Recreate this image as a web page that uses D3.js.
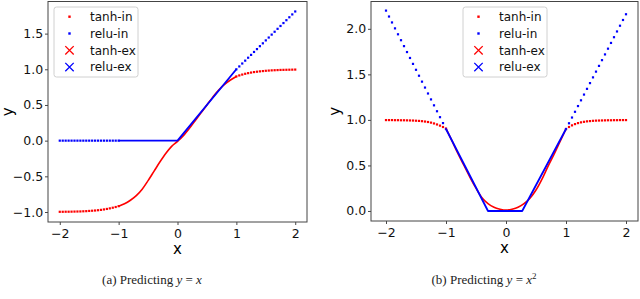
<!DOCTYPE html>
<html><head><meta charset="utf-8">
<script src="https://cdn.jsdelivr.net/npm/d3@7"></script>
<style>body{margin:0;background:#fff}svg{display:block}</style>
</head><body>
<svg id="c" width="640" height="299"></svg>
<script>
// grids
const xOutL = [-2,-1.95,-1.9,-1.85,-1.8,-1.75,-1.7,-1.65,-1.6,-1.55,-1.5,-1.45,-1.4,-1.35,-1.3,-1.25,-1.2,-1.15,-1.1,-1.05,-1];
const xOutR = [1,1.05,1.1,1.15,1.2,1.25,1.3,1.35,1.4,1.45,1.5,1.55,1.6,1.65,1.7,1.75,1.8,1.85,1.9,1.95,2];
const xIn = [-1,-0.9,-0.8,-0.7,-0.6,-0.5,-0.4,-0.3,-0.2,-0.1,0,0.1,0.2,0.3,0.4,0.5,0.6,0.7,0.8,0.9,1];

// panel (a): y = x
const tanhInA_L = [-0.997,-0.997,-0.996,-0.996,-0.995,-0.994,-0.993,-0.992,-0.990,-0.988,-0.985,-0.982,-0.979,-0.975,-0.970,-0.964,-0.957,-0.949,-0.940,-0.930,-0.918];
const tanhInA_R = [0.900,0.914,0.926,0.937,0.946,0.954,0.961,0.966,0.971,0.975,0.979,0.982,0.985,0.987,0.989,0.991,0.992,0.993,0.994,0.995,0.996];
const reluInA_L = [0,0,0,0,0,0,0,0,0,0,0,0,0,0,0,0,0,0,0,0,0];
const reluInA_R = [1.000,1.040,1.081,1.121,1.162,1.202,1.243,1.283,1.324,1.364,1.405,1.445,1.486,1.526,1.567,1.607,1.648,1.688,1.729,1.769,1.810];
const tanhExA = [-0.918,-0.885,-0.835,-0.77,-0.68,-0.56,-0.43,-0.3,-0.18,-0.08,-0.01,0.07,0.17,0.28,0.39,0.5,0.61,0.71,0.79,0.85,0.9];
const reluExA_x = [-1,0,1];
const reluExA_y = [0,0,1];

// panel (b): y = x^2
const tanhInB_L = [0.998,0.998,0.998,0.997,0.997,0.996,0.996,0.995,0.994,0.993,0.991,0.989,0.986,0.982,0.977,0.970,0.961,0.950,0.937,0.922,0.905];
const tanhInB_R = [0.900,0.922,0.940,0.954,0.965,0.973,0.979,0.984,0.987,0.990,0.992,0.993,0.994,0.995,0.996,0.996,0.997,0.997,0.998,0.998,0.998];
const reluInB_L = [2.200,2.135,2.070,2.005,1.940,1.875,1.810,1.745,1.680,1.615,1.550,1.485,1.420,1.355,1.290,1.225,1.160,1.095,1.030,0.965,0.900];
const reluInB_R = [0.900,0.963,1.026,1.089,1.152,1.215,1.278,1.341,1.404,1.467,1.530,1.593,1.656,1.719,1.782,1.845,1.908,1.971,2.034,2.097,2.160];
const tanhExB = [0.905,0.77,0.63,0.50,0.37,0.25,0.145,0.08,0.04,0.02,0.01,0.02,0.04,0.08,0.14,0.23,0.35,0.49,0.62,0.76,0.90];
const reluExB_x = [-1,-0.3,0.27,1];
const reluExB_y = [0.9,0,0,0.9];

const xTicks = [-2,-1,0,1,2];
const yTicksA = [-1,-0.5,0,0.5,1,1.5];
const yTicksB = [0,0.5,1,1.5,2];
const legendLabels = ["tanh-in","relu-in","tanh-ex","relu-ex"];
const legendColors = ["#ff0000","#0000ff","#ff0000","#0000ff"];
const legendKinds = ["dot","dot","x","x"];

const RED = "#ff0000", BLUE = "#0000ff";
const svg = d3.select("#c");
const zip = (xs, ys) => xs.map((x,i)=>[x, ys[i]]);

function panel(cfg){
  const g = svg.append("g");
  const x = d3.scaleLinear().domain(cfg.xd).range([cfg.l, cfg.r]);
  const y = d3.scaleLinear().domain(cfg.yd).range([cfg.b, cfg.t]);
  const fmtX = d3.format("d"), fmtY = d3.format(".1f");

  const ax = g.append("g").attr("transform",`translate(0,${cfg.b})`)
    .call(d3.axisBottom(x).tickValues(xTicks).tickFormat(fmtX).tickSizeOuter(0).tickSize(3).tickPadding(4));
  const ay = g.append("g").attr("transform",`translate(${cfg.l},0)`)
    .call(d3.axisLeft(y).tickValues(cfg.yt).tickFormat(fmtY).tickSizeOuter(0).tickSize(3).tickPadding(1.8));
  [ax, ay].forEach(a=>{
    a.select(".domain").remove();
    a.selectAll("line").attr("stroke","#333").attr("stroke-width",0.9);
    a.selectAll("text").attr("font-family","DejaVu Sans").attr("font-size",12.5).attr("fill","#111");
  });

  // series
  const dots = (xs, ys, col) => g.append("g").selectAll("rect").data(zip(xs, ys)).join("rect")
    .attr("x", d=>x(d[0])-1.1).attr("y", d=>y(d[1])-1.1).attr("width",2.2).attr("height",2.2).attr("fill", col);
  const line = (pts, col, w, curve) => g.append("path").datum(pts)
    .attr("d", d3.line().x(d=>x(d[0])).y(d=>y(d[1])).curve(curve||d3.curveLinear))
    .attr("fill","none").attr("stroke", col).attr("stroke-width", w).attr("stroke-linejoin","round");

  dots(xOutL, cfg.tL, RED); dots(xOutR, cfg.tR, RED);
  dots(xOutL, cfg.rL, BLUE); dots(xOutR, cfg.rR, BLUE);
  line(zip(xIn, cfg.tEx), RED, 1.6, d3.curveMonotoneX);
  line(zip(cfg.rExX, cfg.rExY), BLUE, 1.8);

  // frame
  g.append("rect").attr("x",cfg.l).attr("y",cfg.t).attr("width",cfg.r-cfg.l).attr("height",cfg.b-cfg.t)
    .attr("fill","none").attr("stroke","#444").attr("stroke-width",1);

  // axis labels
  g.append("text").attr("x",(cfg.l+cfg.r)/2).attr("y",cfg.b+32).attr("text-anchor","middle")
    .attr("font-family","DejaVu Sans").attr("font-size",15).text("x");
  g.append("text").attr("transform",`translate(${cfg.ylx},${(cfg.t+cfg.b)/2}) rotate(-90)`).attr("text-anchor","middle")
    .attr("font-family","DejaVu Sans").attr("font-size",15).text("y");

  // legend
  const lg = g.append("g");
  lg.append("rect").attr("x",cfg.lx).attr("y",cfg.ly).attr("width",cfg.lw).attr("height",70).attr("rx",2.5)
    .attr("fill","rgba(255,255,255,0.85)").attr("stroke","#d0d0d0").attr("stroke-width",1);
  legendLabels.forEach((lab,i)=>{
    const cy = cfg.ly + 9.7 + i*16.8, mx = cfg.lx + 15.5;
    if(legendKinds[i]==="dot"){
      lg.append("rect").attr("x",mx-1.2).attr("y",cy-1.2).attr("width",2.4).attr("height",2.4).attr("fill",legendColors[i]);
    } else {
      lg.append("path").attr("d",`M${mx-4.2},${cy-4.2}L${mx+4.2},${cy+4.2}M${mx-4.2},${cy+4.2}L${mx+4.2},${cy-4.2}`)
        .attr("stroke",legendColors[i]).attr("stroke-width",1.3);
    }
    lg.append("text").attr("x",cfg.lx+36).attr("y",cy+4.3).attr("font-family","DejaVu Sans").attr("font-size",12)
      .attr("fill","#111").text(lab);
  });

  // caption
  const cap = svg.append("text").attr("x",cfg.capx).attr("y",284).attr("text-anchor","middle")
    .attr("font-family","Liberation Serif").attr("font-size",13).attr("fill","#222");
  cap.append("tspan").text(cfg.capLab + " Predicting ");
  cap.append("tspan").attr("font-style","italic").text("y");
  cap.append("tspan").text(" = ");
  cap.append("tspan").attr("font-style","italic").text("x");
  if(cfg.sq) cap.append("tspan").attr("font-size",9).attr("dy",-5).text("2");
}

panel({l:48, r:307, t:1.5, b:222, xd:[-2.2,2.2], yd:[-1.14,1.95], yt:yTicksA,
  tL:tanhInA_L, tR:tanhInA_R, rL:reluInA_L, rR:reluInA_R, tEx:tanhExA, rExX:reluExA_x, rExY:reluExA_y,
  ylx:13, lx:54, ly:7, lw:84, capx:152, capLab:"(a)", sq:false});
panel({l:371, r:638, t:1.5, b:221, xd:[-2.25,2.2], yd:[-0.11,2.3], yt:yTicksB,
  tL:tanhInB_L, tR:tanhInB_R, rL:reluInB_L, rR:reluInB_R, tEx:tanhExB, rExX:reluExB_x, rExY:reluExB_y,
  ylx:340, lx:463, ly:7, lw:84, capx:484, capLab:"(b)", sq:true});
</script>
</body></html>
